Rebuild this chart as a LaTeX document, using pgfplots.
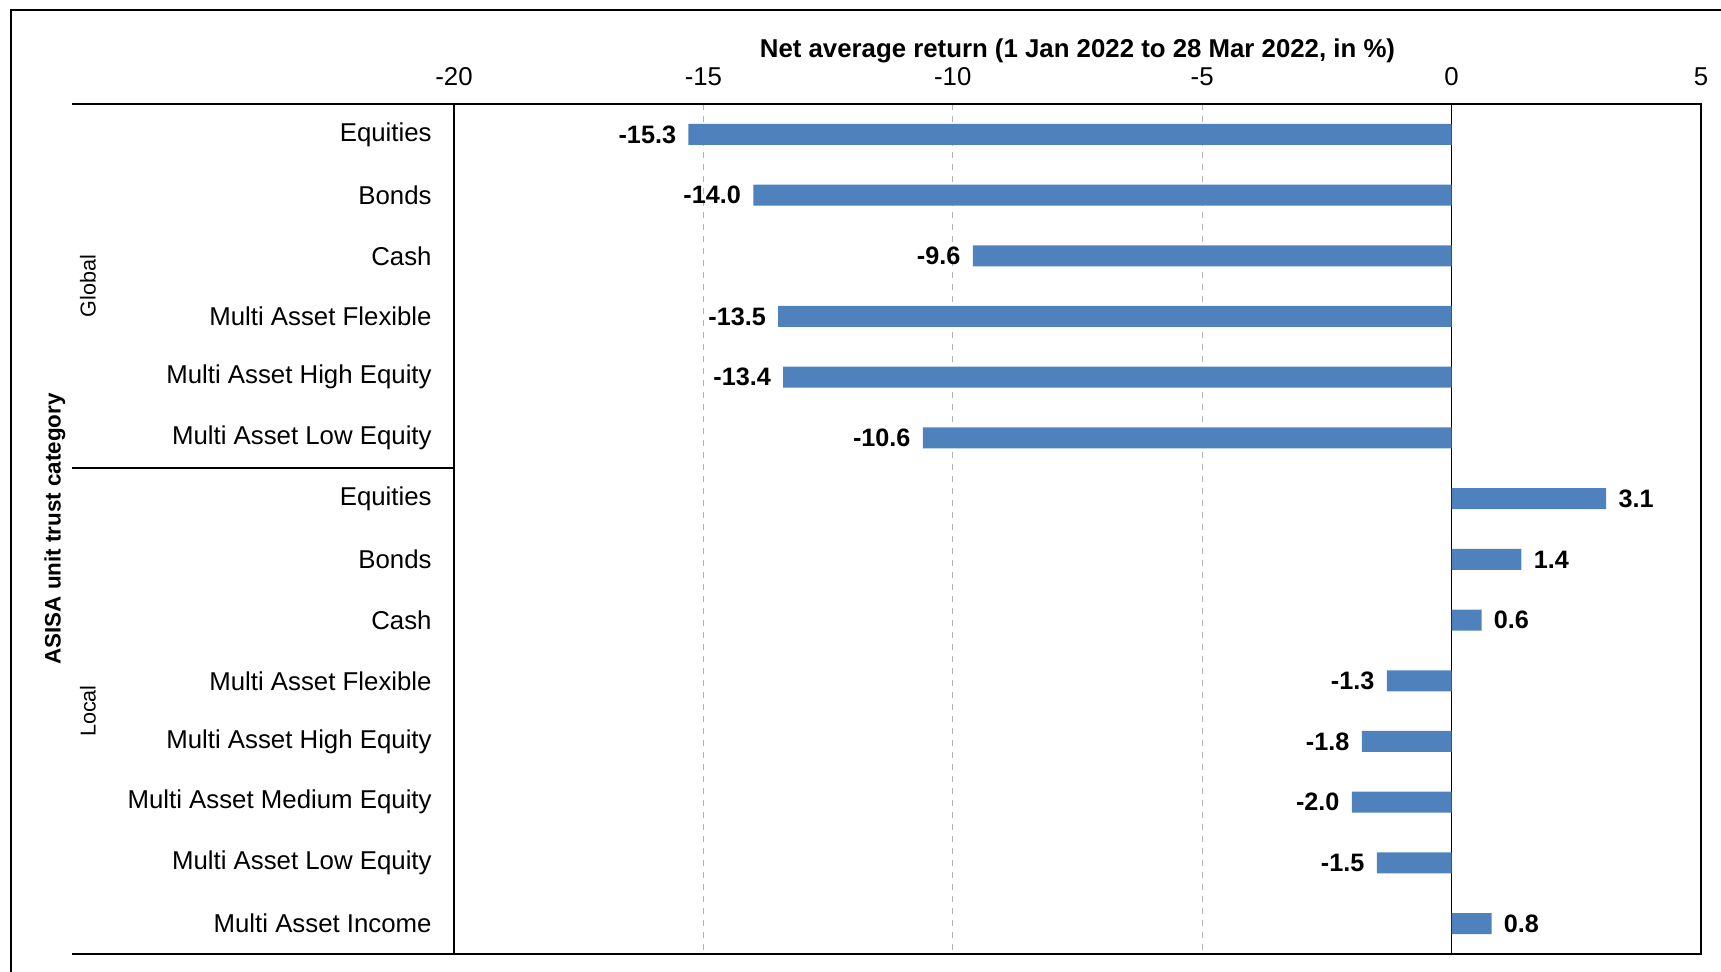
\documentclass[border=0pt]{standalone}
\usepackage{pgfplots}
\pgfplotsset{compat=1.18}
\usepackage{pgfplotstable}
\usepackage{fontspec}
\setmainfont{Liberation Sans}
\usetikzlibrary{calc}
\definecolor{barblue}{HTML}{4F81BD}
\pgfplotstableread{
y x
0 -15.3
1 -14.0
2 -9.6
3 -13.5
4 -13.4
5 -10.6
6 3.1
7 1.4
8 0.6
9 -1.3
10 -1.8
11 -2.0
12 -1.5
13 0.8
}\data
\begin{document}
\begin{tikzpicture}
\useasboundingbox (0,0) rectangle (860.5pt,486pt);
\draw[line width=1pt] (5.5pt,-10pt) -- (5.5pt,481pt) -- (880pt,481pt);
\begin{axis}[
  at={(227pt,9pt)}, anchor=south west,
  scale only axis, width=623.5pt, height=425pt,
  xbar, bar width=10.5pt,
  xmin=-20, xmax=5, ymin=-0.5, ymax=13.5,
  y dir=reverse,
  ytick={0,...,13},
  yticklabels={Equities,Bonds,Cash,Multi Asset Flexible,Multi Asset High Equity,Multi Asset Low Equity,Equities,Bonds,Cash,Multi Asset Flexible,Multi Asset High Equity,Multi Asset Medium Equity,Multi Asset Low Equity,Multi Asset Income},
  xtick={-20,-15,...,5},
  xticklabel pos=upper,
  major tick length=0pt,
  xmajorgrids,
  grid style={dashed, black!30, line width=0.6pt},
  extra x ticks={0},
  extra x tick labels={},
  extra x tick style={grid style={solid, black, line width=0.8pt}},
  axis line style={line width=0.8pt, black},
  /pgf/number format/assume math mode=true,
  tick label style={font=\fontsize{12.9}{15}\selectfont},
  yticklabel style={inner sep=0pt, xshift=-11pt},
  xticklabel style={inner sep=0pt, yshift=9pt},
  nodes near coords={\pgfmathprintnumber[fixed,fixed zerofill,precision=1]{\pgfplotspointmeta}},
  nodes near coords align=horizontal,
  every node near coord/.append style={font=\bfseries\fontsize{12.6}{15}\selectfont, inner xsep=6pt, black},
  point meta=x,
]
\addplot[fill=barblue, draw=none] table[x=x, y=y] {\data};
\coordinate (ltop) at (axis cs:-20,-0.5);
\coordinate (lsep) at (axis cs:-20,5.5);
\coordinate (lbot) at (axis cs:-20,13.5);
\coordinate (gmid) at (axis cs:-20,2.5);
\coordinate (lmid) at (axis cs:-20,9.5);
\coordinate (amid) at (rel axis cs:0,0.5);
\coordinate (tmid) at (rel axis cs:0.5,1);
\end{axis}
\draw[line width=0.8pt] (ltop) -- ++(-191pt,0);
\draw[line width=0.8pt] (lsep) -- ++(-191pt,0);
\draw[line width=0.8pt] (lbot) -- ++(-191pt,0);
\node[rotate=90, font=\fontsize{10.8}{13}\selectfont] at ($(gmid)+(-183pt,0)$) {Global};
\node[rotate=90, font=\fontsize{10.8}{13}\selectfont] at ($(lmid)+(-183pt,0)$) {Local};
\node[rotate=90, font=\bfseries\fontsize{11.2}{13}\selectfont] at ($(amid)+(-199.5pt,0)$) {ASISA unit trust category};
\node[font=\bfseries\fontsize{12.9}{15}\selectfont] at ($(tmid)+(0,26.5pt)$) {Net average return (1 Jan 2022 to 28 Mar 2022, in \%)};
\end{tikzpicture}
\end{document}
